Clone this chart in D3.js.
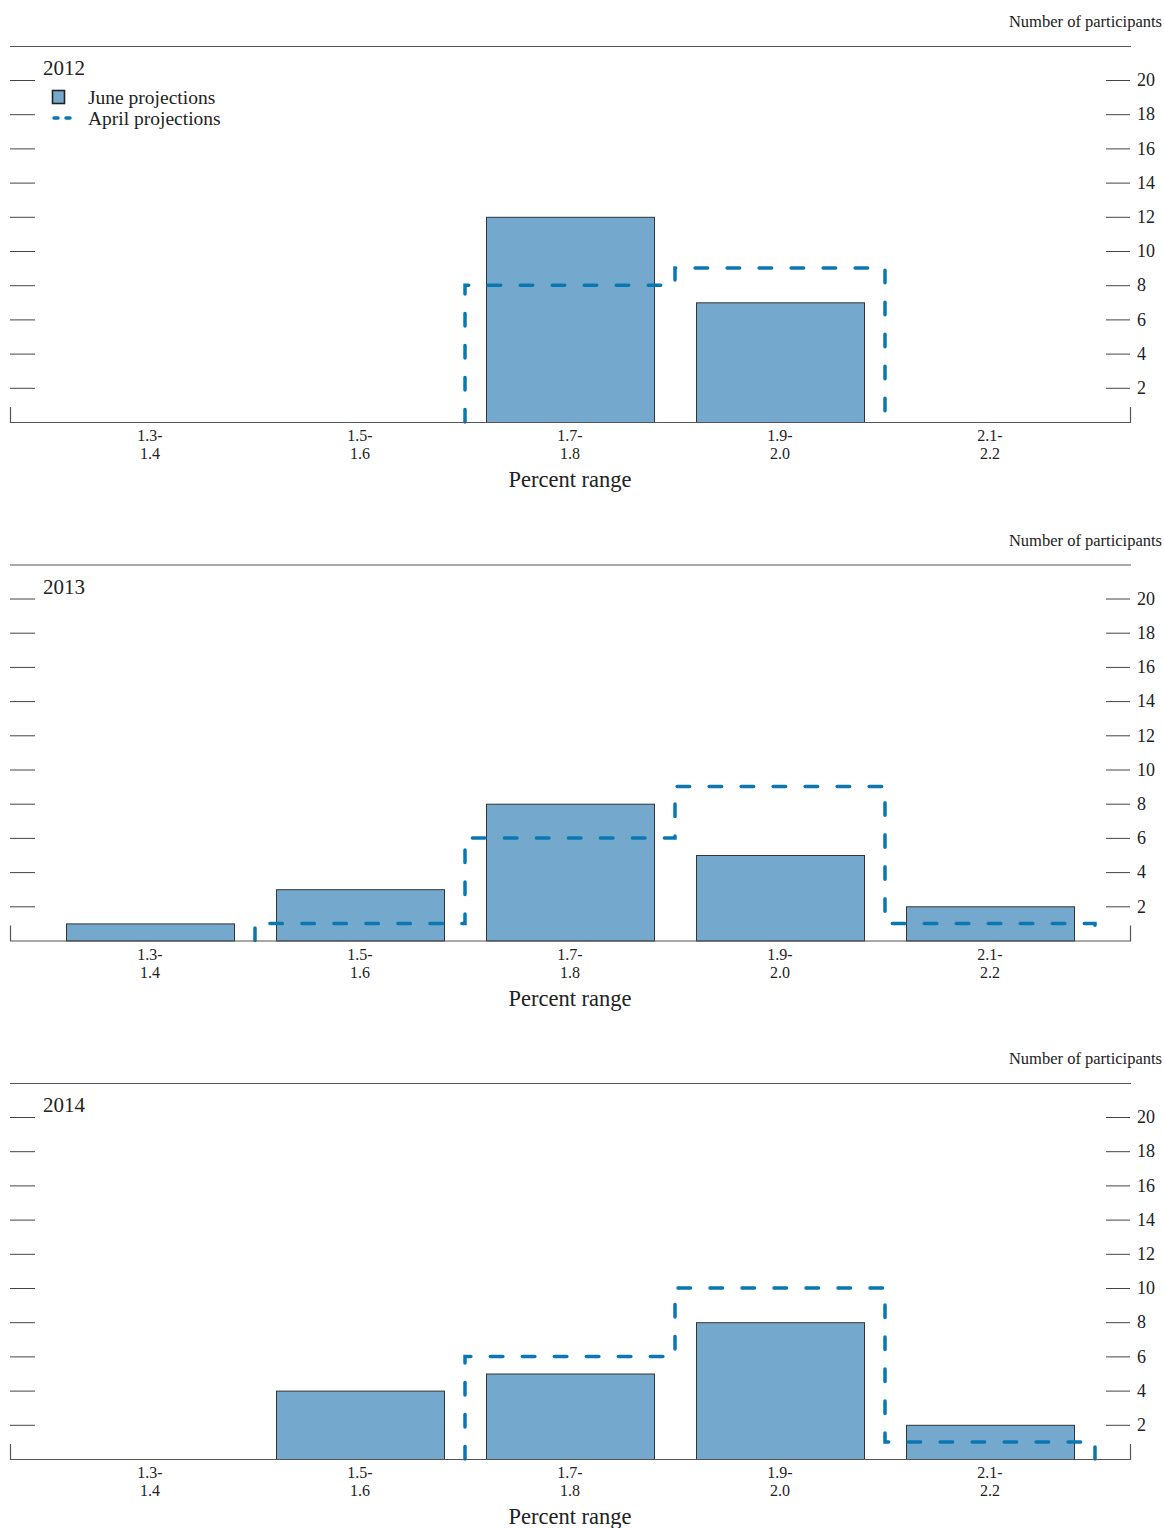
<!DOCTYPE html>
<html><head><meta charset="utf-8">
<script src="https://cdn.jsdelivr.net/npm/d3@7"></script>
<style>body{margin:0;background:#fff;} svg{display:block;}</style>
</head><body>
<svg id="c" width="1164" height="1528"></svg>
<script>
const categories = ["1.3-1.4","1.5-1.6","1.7-1.8","1.9-2.0","2.1-2.2"];
const years = ["2012","2013","2014"];
const juneValues = [
  [0,0,12,7,0],
  [1,3,8,5,2],
  [0,4,5,8,2]
];
const aprilValues = [
  [0,0,8,9,0],
  [0,1,6,9,1],
  [0,0,6,10,1]
];
const yTicks = [2,4,6,8,10,12,14,16,18,20];
const yTitle = "Number of participants";
const xTitle = "Percent range";
const legendLabels = ["June projections","April projections"];

const FONT = "'Liberation Serif','DejaVu Serif',serif";
const barFill = "#75a8cd", dashCol = "#0a78b0", axisCol = "#444";
const svg = d3.select("#c");
const panelH = 518.5;

const x = d3.scaleBand().domain(categories).range([45,1095]).paddingInner(0.2).paddingOuter(0.1);
const step = x.step();

years.forEach((yr, pi) => {
  const g = svg.append("g").attr("transform", `translate(0,${pi*panelH})`);
  const y = d3.scaleLinear().domain([0,20]).range([422, 80]);

  g.append("text").attr("x",1162).attr("y",27).attr("text-anchor","end")
    .style("font-family",FONT).style("font-size","16.5px").attr("fill","#222").text(yTitle);
  g.append("line").attr("x1",10).attr("x2",1131).attr("y1",46.5).attr("y2",46.5)
    .attr("stroke","#555").attr("stroke-width",1.2);

  const leftAxis = d3.axisLeft(y).tickValues(yTicks).tickSize(25).tickFormat("");
  const la = g.append("g").attr("transform","translate(35,0)").call(leftAxis);
  la.select(".domain").remove();
  la.selectAll("line").attr("stroke",axisCol).attr("stroke-width",1);

  const rightAxis = d3.axisRight(y).tickValues(yTicks).tickSize(24).tickPadding(7);
  const ra = g.append("g").attr("transform","translate(1106,0)").call(rightAxis);
  ra.select(".domain").remove();
  ra.selectAll("line").attr("stroke",axisCol).attr("stroke-width",1);
  ra.selectAll("text").style("font-family",FONT).style("font-size","18px").attr("fill","#222");

  const bw = x.bandwidth();
  g.selectAll("rect.bar").data(categories.map((c,i)=>({c, v: juneValues[pi][i]})).filter(d=>d.v>0))
    .enter().append("rect").attr("class","bar")
    .attr("x", d => x(d.c)+0.5).attr("width", bw)
    .attr("y", d => y(d.v)+0.5).attr("height", d => y(0)-y(d.v))
    .attr("fill", barFill).attr("stroke","#333").attr("stroke-width",1);

  const av = aprilValues[pi];
  const pts = [];
  const left = i => x(categories[i]) + bw/2 - step/2;
  const right = i => x(categories[i]) + bw/2 + step/2;
  let first = av.findIndex(v=>v>0), last = av.length-1 - [...av].reverse().findIndex(v=>v>0);
  pts.push([left(first), y(0)]);
  for (let i=first;i<=last;i++){
    pts.push([left(i), y(av[i])]);
    pts.push([right(i), y(av[i])]);
  }
  pts.push([right(last), y(0)]);
  g.append("path").attr("d", d3.line()(pts)).attr("fill","none")
    .attr("stroke",dashCol).attr("stroke-width",3.5)
    .attr("stroke-dasharray","12.5,19.5").attr("stroke-linecap","round");

  g.append("path").attr("d", d3.line()([[10.5,407],[10.5,y(0)+0.5],[1130.5,y(0)+0.5],[1130.5,407]]))
    .attr("fill","none").attr("stroke","#555").attr("stroke-width",1.2);

  categories.forEach(c => {
    const parts = c.split("-");
    const cx = x(c) + bw/2;
    const t = g.append("text").attr("x",cx).attr("text-anchor","middle")
      .style("font-family",FONT).style("font-size","16px").attr("fill","#222");
    t.append("tspan").attr("x",cx).attr("y",441).text(parts[0]+"-");
    t.append("tspan").attr("x",cx).attr("y",459).text(parts[1]);
  });
  g.append("text").attr("x",570).attr("y",487).attr("text-anchor","middle")
    .style("font-family",FONT).style("font-size","22.5px").attr("fill","#222").text(xTitle);

  g.append("text").attr("x",43).attr("y",75).style("font-family",FONT).style("font-size","21px")
    .attr("fill","#222").text(yr);

  if (pi === 0) {
    g.append("rect").attr("x",52.5).attr("y",90.5).attr("width",12).attr("height",13)
      .attr("fill",barFill).attr("stroke","#222").attr("stroke-width",1.6);
    g.append("text").attr("x",88).attr("y",104).style("font-family",FONT).style("font-size","19.5px")
      .attr("fill","#222").text(legendLabels[0]);
    g.append("line").attr("x1",54).attr("x2",72).attr("y1",118).attr("y2",118)
      .attr("stroke",dashCol).attr("stroke-width",3.5).attr("stroke-dasharray","4,8").attr("stroke-linecap","round");
    g.append("text").attr("x",88).attr("y",125).style("font-family",FONT).style("font-size","19.5px")
      .attr("fill","#222").text(legendLabels[1]);
  }
});
</script>
</body></html>
